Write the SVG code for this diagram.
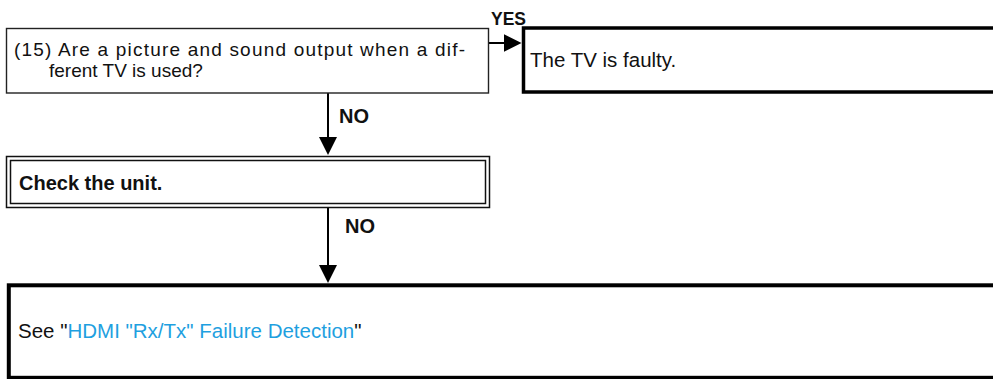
<svg xmlns="http://www.w3.org/2000/svg" width="993" height="379" viewBox="0 0 993 379">
<style>
.t{font-family:"Liberation Sans",Arial,sans-serif;font-size:20.5px;fill:#111}
.b{font-family:"Liberation Sans",Arial,sans-serif;font-weight:bold;fill:#111}
.link{fill:#1ea0e0}
.thin{fill:#fff;stroke:#222;stroke-width:1.4}
.thick{fill:#fff;stroke:#000;stroke-width:4}
.dbl{fill:none;stroke:#111;stroke-width:1.5}
.conn{stroke:#000;stroke-width:2;fill:none;marker-end:url(#ah)}
</style>
<defs>
<marker id="ah" markerWidth="19" markerHeight="19" refX="8" refY="9" orient="auto" markerUnits="userSpaceOnUse">
<path d="M0,0 L18,9 L0,18 z" fill="#000"/>
</marker>
</defs>
<rect width="993" height="379" fill="#fff"/>
<g id="connectors">
<line class="conn" x1="489" y1="43" x2="511.5" y2="43"/>
<line class="conn" x1="328" y1="93" x2="328" y2="145"/>
<line class="conn" x1="328" y1="208" x2="328" y2="273"/>
<text class="b" x="491" y="25" font-size="17.5">YES</text>
<text class="b" x="339" y="123" font-size="20">NO</text>
<text class="b" x="345" y="233" font-size="20">NO</text>
</g>
<g id="q15">
<rect class="thin" x="6.5" y="28.5" width="482" height="64.5"/>
<text class="t" style="font-size:19px"><tspan x="14" y="55.5" textLength="451" lengthAdjust="spacing">(15) Are a picture and sound output when a dif-</tspan><tspan x="49" y="77.2">ferent TV is used?</tspan></text>
</g>
<g id="tvfaulty">
<rect class="thick" x="523.5" y="28" width="480" height="64" style="stroke-width:3.5"/>
<text class="t" x="530" y="67">The TV is faulty.</text>
</g>
<g id="checkunit">
<rect fill="#fff" x="6.5" y="156.5" width="483" height="51"/>
<rect class="dbl" x="6.5" y="156.5" width="483" height="51"/>
<rect class="dbl" x="10.5" y="160.5" width="475" height="43"/>
<text class="b" x="19" y="190" font-size="20">Check the unit.</text>
</g>
<g id="seehdmi">
<rect class="thick" x="8.8" y="285.3" width="1000" height="92.5"/>
<text class="t" x="18" y="338">See "<tspan class="link">HDMI "Rx/Tx" Failure Detection</tspan>"</text>
</g>
</svg>
